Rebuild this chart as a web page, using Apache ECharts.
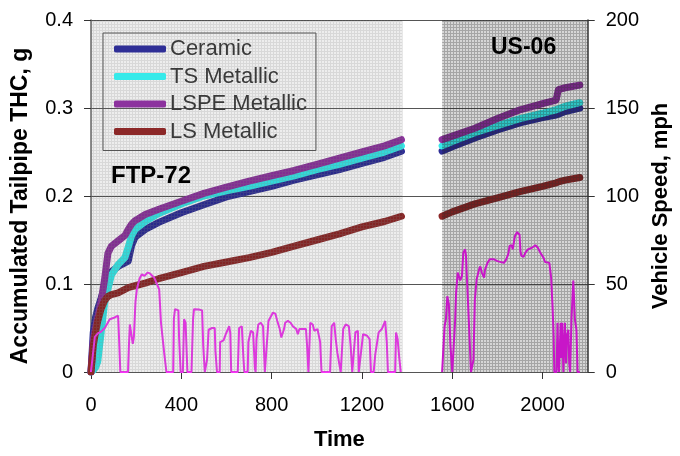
<!DOCTYPE html>
<html>
<head>
<meta charset="utf-8">
<script src="https://cdn.jsdelivr.net/npm/echarts@6/dist/echarts.min.js"></script>
<style>
  html, body { margin: 0; padding: 0; background: #fff; }
  #chart { width: 680px; height: 456px; }
</style>
</head>
<body>
<div id="chart"></div>
<script>
// accumulated THC, g  (FTP-72 part)
const thcTimeFtp = [0, 10, 20, 30, 45, 60, 75, 90, 120, 150, 165, 180, 195, 240, 300, 400, 500, 600, 700, 800, 900, 1000, 1100, 1200, 1300, 1375];
const ceramicFtp = [0, 0.045, 0.062, 0.072, 0.084, 0.097, 0.108, 0.114, 0.12, 0.124, 0.126, 0.144, 0.153, 0.162, 0.17, 0.181, 0.19, 0.199, 0.205, 0.211, 0.218, 0.224, 0.23, 0.237, 0.244, 0.251];
const tsFtp = [0, 0.002, 0.005, 0.012, 0.045, 0.078, 0.094, 0.11, 0.122, 0.13, 0.142, 0.155, 0.162, 0.171, 0.18, 0.191, 0.2, 0.206, 0.211, 0.217, 0.223, 0.23, 0.236, 0.243, 0.25, 0.257];
const lspeFtp = [0, 0.035, 0.05, 0.062, 0.08, 0.105, 0.135, 0.143, 0.149, 0.155, 0.162, 0.168, 0.172, 0.179, 0.185, 0.194, 0.203, 0.21, 0.217, 0.223, 0.229, 0.236, 0.243, 0.25, 0.257, 0.264];
const lsFtp = [0, 0.03, 0.045, 0.058, 0.072, 0.081, 0.086, 0.088, 0.09, 0.094, 0.096, 0.097, 0.098, 0.101, 0.106, 0.113, 0.12, 0.125, 0.13, 0.136, 0.143, 0.15, 0.157, 0.165, 0.171, 0.177];

// accumulated THC, g  (US-06 part)
const thcTimeUs06 = [1555, 1600, 1700, 1800, 1900, 2000, 2060, 2070, 2100, 2165];
const ceramicUs06 = [0.251, 0.256, 0.266, 0.275, 0.283, 0.289, 0.292, 0.293, 0.296, 0.3];
const tsUs06 = [0.257, 0.262, 0.272, 0.28, 0.288, 0.294, 0.298, 0.299, 0.302, 0.306];
const lspeUs06 = [0.264, 0.268, 0.277, 0.288, 0.298, 0.305, 0.309, 0.321, 0.323, 0.326];
const lsUs06 = [0.177, 0.182, 0.191, 0.198, 0.205, 0.211, 0.215, 0.216, 0.218, 0.221];

// vehicle speed, mph
const ftpSpeedTime = [0,8,17,30,45,61,83,105,120,124,130,164,168,172,180,185,190,197,203,215,225,237,251,261,280,302,310,324,334,364,367,372,387,390,397,407,412,419,427,445,452,456,478,492,497,504,514,521,536,548,551,558,570,572,587,597,612,617,621,650,656,668,675,679,694,697,708,718,726,729,733,741,752,762,770,775,786,792,806,817,825,836,843,855,860,872,884,894,909,916,923,952,957,963,967,971,982,989,1003,1015,1021,1059,1066,1077,1084,1091,1106,1110,1117,1128,1142,1150,1157,1165,1171,1182,1186,1193,1205,1223,1234,1240,1252,1259,1274,1288,1303,1310,1315,1347,1351,1358,1366,1372];
const ftpSpeed = [0,0,20,22,23,25,30,31,32,20,0,0,15,27,26,16,20,40,47,53,55.5,54.6,56.5,56,53.6,47,28,11,0,0,30,35.7,35,20,0,0,30,28,0,0,30,35.7,35.5,35,15,0,7,24,25,25,12,0,0,17,18,21.5,26,22,0,0,25,26,8,0,0,17,23.4,22.5,2,0,18.7,27,28,26,0,0,29,29,33.8,33,29,24.4,19.6,24.4,28,29,28,26,24.4,21.5,24.4,24.4,15,0,0,28,27,23.4,24.4,17,0,0,26,28,18.7,11,0,0,24.4,27,26,15,0,0,22.5,23.4,0,0,21.5,20.6,18.7,0,0,10,22.5,24.4,29,17,0,0,22.5,18.7,7,0];
const us06SpeedTime = [1555,1559,1566,1572,1578,1585,1590,1592,1600,1605,1613,1617,1624,1632,1635,1643,1649,1657,1661,1664,1668,1675,1683,1690,1694,1700,1708,1719,1724,1731,1741,1745,1756,1766,1785,1800,1807,1829,1839,1848,1854,1863,1868,1877,1887,1898,1902,1906,1916,1924,1935,1953,1968,1979,1990,2004,2011,2030,2038,2044,2049,2052,2062,2066,2070,2073,2080,2084,2087,2092,2099,2104,2108,2114,2118,2122,2128,2136,2140,2143,2150,2155,2165];
const us06Speed = [0,0,26,30,43,38.5,38.5,15,0,0,30,45,56.5,56,52,54.6,67.8,69.7,66,56,45,24,0,0,7,41,52.7,58.4,60,56.5,53.6,58,62,64,64,63,62.5,62,64,67,71.6,72,69.7,77,79.5,78,68.7,66,65.5,67.8,69.7,70.6,72,70.6,67.8,65,62.5,62,53.6,37.6,20.6,0,0,28,5,0,28,8,28,0,28,5,20.6,24,5,0,30,52,51,30,24,0,0];

// test cycle spans (s)
const ftpSpan = [0, 1380];
const us06Span = [1555, 2200];

const seriesNames = ['Ceramic', 'TS Metallic', 'LSPE Metallic', 'LS Metallic'];
const seriesColors = ['#2e2e96', '#36eaea', '#8c329e', '#8c2828'];
const ftpValues = [ceramicFtp, tsFtp, lspeFtp, lsFtp];
const us06Values = [ceramicUs06, tsUs06, lspeUs06, lsUs06];

function joinParts(t1, v1, t2, v2) {
    const out = t1.map((t, i) => [t, v1[i]]);
    out.push([1460, null]);
    return out.concat(t2.map((t, i) => [t, v2[i]]));
}

// small tiled canvas, laid over the plot so the lines get the texture too
function makePattern(size, lineColor, cellColor) {
    const c = document.createElement('canvas');
    c.width = size;
    c.height = size;
    const ctx = c.getContext('2d');
    ctx.fillStyle = cellColor;
    ctx.fillRect(1, 1, size - 1, size - 1);
    ctx.fillStyle = lineColor;
    ctx.fillRect(0, 0, size, 1);
    ctx.fillRect(0, 1, 1, size - 1);
    return { image: c, repeat: 'repeat' };
}

const lightPattern = makePattern(3, 'rgba(100,100,100,0.25)', 'rgba(0,0,0,0.07)');
const darkPattern = makePattern(3, 'rgba(30,30,30,0.4)', 'rgba(0,0,0,0.16)');

const font = '"Liberation Sans", Arial, sans-serif';

const chart = echarts.init(document.getElementById('chart'), null, { renderer: 'canvas' });

const thcSeries = seriesNames.map((name, k) => ({
    name: name,
    type: 'line',
    yAxisIndex: 0,
    data: joinParts(thcTimeFtp, ftpValues[k], thcTimeUs06, us06Values[k]),
    showSymbol: false,
    connectNulls: false,
    z: 2,
    lineStyle: { width: 7, color: seriesColors[k], cap: 'round', join: 'round' },
    itemStyle: { color: seriesColors[k] }
}));

const ftpSpeedSeries = {
    name: 'Speed FTP',
    type: 'line',
    yAxisIndex: 1,
    data: ftpSpeedTime.map((t, i) => [t, ftpSpeed[i]]),
    showSymbol: false,
    z: 2,
    lineStyle: { width: 2, color: '#f836f8' },
    itemStyle: { color: '#f836f8' },
    markArea: {
        silent: true,
        z: 3,
        data: [
            [{ xAxis: ftpSpan[0], itemStyle: { color: lightPattern } }, { xAxis: ftpSpan[1] }],
            [{ xAxis: us06Span[0], itemStyle: { color: darkPattern } }, { xAxis: us06Span[1] }]
        ]
    }
};

// drawn above the dark shading, in the darker magenta seen there
const us06SpeedSeries = {
    name: 'Speed US06',
    type: 'line',
    yAxisIndex: 1,
    data: us06SpeedTime.map((t, i) => [t, us06Speed[i]]),
    showSymbol: false,
    z: 4,
    lineStyle: { width: 2, color: '#c816c8' },
    itemStyle: { color: '#c816c8' }
};

const options = {
    animation: false,
    backgroundColor: '#fff',
    textStyle: { fontFamily: font },
    grid: { left: 91, right: 87, top: 20, bottom: 83 },
    legend: {
        data: seriesNames,
        orient: 'vertical',
        left: 103,
        top: 33,
        padding: [5, 9, 8, 11],
        itemGap: 5.5,
        itemWidth: 52,
        itemHeight: 7,
        icon: 'roundRect',
        borderColor: '#555',
        borderWidth: 1,
        textStyle: { fontSize: 22, color: '#3a3a3a', fontFamily: font, padding: [0, 0, 0, -1] }
    },
    xAxis: {
        type: 'value',
        min: 0,
        max: 2200,
        interval: 400,
        name: 'Time',
        nameLocation: 'middle',
        nameGap: 57,
        nameTextStyle: { fontSize: 22, fontWeight: 'bold', color: '#000', fontFamily: font },
        axisLine: { show: true, onZero: false, lineStyle: { color: '#555', width: 1 } },
        axisTick: { show: true, length: 7, lineStyle: { color: '#333' } },
        axisLabel: { fontSize: 20, color: '#000', margin: 23, fontFamily: font, showMaxLabel: false, formatter: v => String(v) },
        splitLine: { show: false }
    },
    yAxis: [{
        type: 'value',
        min: 0,
        max: 0.4,
        interval: 0.1,
        name: 'Accumulated Tailpipe THC, g',
        nameLocation: 'middle',
        nameRotate: 90,
        nameGap: 59,
        nameTextStyle: { fontSize: 23, fontWeight: 'bold', color: '#000', fontFamily: font, padding: [0, 20, 0, 0] },
        axisLine: { show: true, lineStyle: { color: '#666', width: 1.5 } },
        axisTick: { show: true, length: 7, lineStyle: { color: '#333' } },
        axisLabel: { fontSize: 20, color: '#000', margin: 18, fontFamily: font },
        splitLine: { show: true, lineStyle: { color: '#555', width: 1 } }
    }, {
        type: 'value',
        position: 'right',
        min: 0,
        max: 200,
        interval: 50,
        name: 'Vehicle Speed, mph',
        nameLocation: 'middle',
        nameRotate: 90,
        nameGap: 62,
        nameTextStyle: { fontSize: 22, fontWeight: 'bold', color: '#000', fontFamily: font, padding: [0, 20, 0, 0] },
        axisLine: { show: true, lineStyle: { color: '#333', width: 1.5 } },
        axisTick: { show: true, length: 7, lineStyle: { color: '#333' } },
        axisLabel: { fontSize: 20, color: '#000', margin: 18, fontFamily: font },
        splitLine: { show: false }
    }],
    graphic: [{
        type: 'text',
        left: 111,
        top: 164,
        z: 10,
        style: { text: 'FTP-72', fontSize: 24, fontWeight: 'bold', fill: '#000', fontFamily: font }
    }, {
        type: 'text',
        left: 491,
        top: 36,
        z: 10,
        style: { text: 'US-06', fontSize: 23, fontWeight: 'bold', fill: '#000', fontFamily: font }
    }],
    series: thcSeries.concat([ftpSpeedSeries, us06SpeedSeries])
};

chart.setOption(options);
</script>
</body>
</html>
